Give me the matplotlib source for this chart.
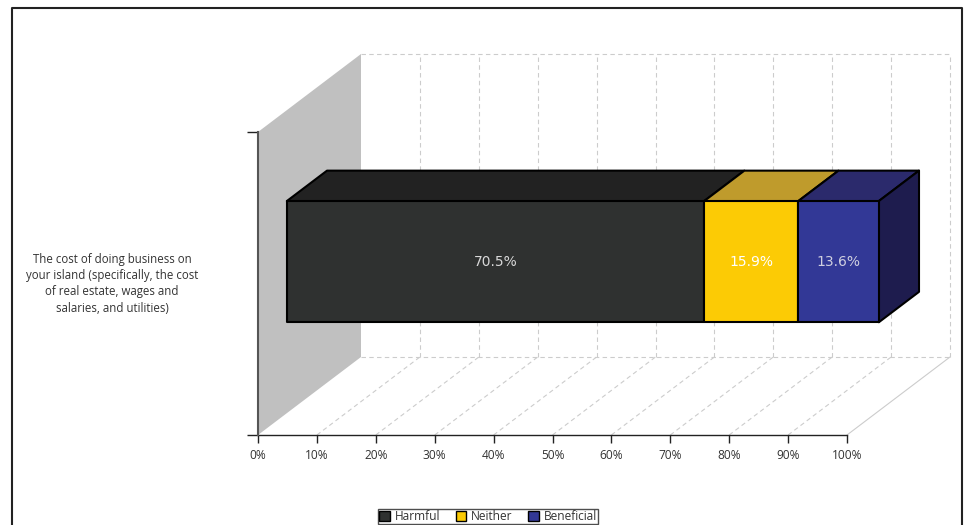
import matplotlib
matplotlib.use('Agg')
import matplotlib.pyplot as plt
from matplotlib.patches import Polygon, Rectangle

# data
category = 'The cost of doing business on\nyour island (specifically, the cost\nof real estate, wages and\nsalaries, and utilities)'
series = ['Harmful', 'Neither', 'Beneficial']
values = [70.5, 15.9, 13.6]
front_colors = ['#2f3130', '#fccb05', '#323896']
top_colors = ['#222222', '#bf9b2c', '#2b2a6c']
side_colors = ['#1b1b1b', '#8a7010', '#1e1c4e']
label_colors = ['#d8d8d8', '#ffffff', '#d0d0e0']
xticks = list(range(0, 101, 10))

W, H = 965, 525
fig = plt.figure(figsize=(W / 100, H / 100), dpi=100)

# front plane: x 0..100 -> px 258..847, y 0..1 -> px 435..132
ax = fig.add_axes([258 / W, (H - 435) / H, 589 / W, 303 / H])
ax.set_xlim(0, 100)
ax.set_ylim(0, 1)
for s in ax.spines.values():
    s.set_visible(False)

# depth shift in data units (full depth = 103px right, 78px up)
DX = 103 / 589 * 100
DY = 78 / 303


def proj(x, y, d):
    return (x + d * DX, y + d * DY)


grid_kw = dict(color='#cccccc', lw=0.8, ls=(0, (4, 3)), clip_on=False, zorder=1)

# left wall
ax.add_patch(Polygon([proj(0, 0, 0), proj(0, 1, 0), proj(0, 1, 1), proj(0, 0, 1)],
                     closed=True, fc='#c0c0c0', ec='none', clip_on=False, zorder=0))

# back wall grid
for t in xticks:
    p0 = proj(t, 0, 1)
    p1 = proj(t, 1, 1)
    if t > 0:
        ax.plot([p0[0], p1[0]], [p0[1], p1[1]], **grid_kw)
for yy in (0, 1):
    p0 = proj(0, yy, 1)
    p1 = proj(100, yy, 1)
    ax.plot([p0[0], p1[0]], [p0[1], p1[1]], **grid_kw)

# floor grid
for t in xticks:
    p0 = proj(t, 0, 0)
    p1 = proj(t, 0, 1)
    if t == 0:
        continue
    if t == 100:
        ax.plot([p0[0], p1[0]], [p0[1], p1[1]], color='#cccccc', lw=0.8, clip_on=False, zorder=1)
    else:
        ax.plot([p0[0], p1[0]], [p0[1], p1[1]], **grid_kw)

# stacked 3d bar
y0, y1 = 0.3, 0.7
d0, d1 = 0.28, 0.67
scale = 592 / 589
left = 0
for i, v in enumerate(values):
    right = left + v
    l, r = left * scale, right * scale
    top = [proj(l, y1, d0), proj(r, y1, d0), proj(r, y1, d1), proj(l, y1, d1)]
    ax.add_patch(Polygon(top, closed=True, fc=top_colors[i], ec='black', lw=1.5,
                         clip_on=False, zorder=3, joinstyle='round'))
    fx, fy = proj(l, y0, d0)
    ax.add_patch(Rectangle((fx, fy), r - l, y1 - y0, fc=front_colors[i], ec='black', lw=1.5,
                           clip_on=False, zorder=4, joinstyle='round'))
    cx, cy = proj((l + r) / 2, (y0 + y1) / 2, d0)
    ax.text(cx, cy, '%.1f%%' % v, ha='center', va='center', fontsize=10,
            color=label_colors[i], family='DejaVu Sans', zorder=6)
    left = right
le = left * scale
side = [proj(le, y0, d0), proj(le, y1, d0), proj(le, y1, d1), proj(le, y0, d1)]
ax.add_patch(Polygon(side, closed=True, fc=side_colors[2], ec='black', lw=1.5,
                     clip_on=False, zorder=3, joinstyle='round'))

# front axes
ax.plot([0, 100], [0, 0], color='#222222', lw=1.0, clip_on=False, zorder=5)
ax.plot([0, 0], [0, 1], color='#555555', lw=1.5, clip_on=False, zorder=5)
ax.set_xticks(xticks)
ax.set_xticklabels(['%d%%' % t for t in xticks], fontsize=8.6, color='#333333', family='Open Sans')
ax.tick_params(axis='x', direction='out', length=6, width=1, color='#222222', pad=4)
ax.set_yticks([0, 1])
ax.set_yticklabels(['', ''])
ax.tick_params(axis='y', direction='out', length=8, width=1, color='#222222')

# category label
fig.text(112 / W, 1 - 284 / H, category, ha='center', va='center', fontsize=8.3,
         color='#333333', family='Open Sans', linespacing=1.3)

# legend
handles = [Rectangle((0, 0), 1, 1, fc=front_colors[i], ec='black', lw=1) for i in range(3)]
leg = fig.legend(handles, series, loc='upper center', bbox_to_anchor=(488 / W, 1 - 503 / H),
                 ncol=3, frameon=True, handlelength=0.9, handleheight=0.9,
                 handletextpad=0.4, columnspacing=1.3, borderpad=0.1, fancybox=False,
                 prop={'family': 'Open Sans', 'size': 8.6})
leg.get_frame().set_edgecolor('#222222')
leg.get_frame().set_linewidth(1)
for t in leg.get_texts():
    t.set_color('#333333')

# outer frame
fig.add_artist(plt.Line2D([12 / W, 12 / W, 962 / W, 962 / W], [0, 1 - 7.5 / H, 1 - 7.5 / H, 0],
                          color='#222222', lw=1.5, transform=fig.transFigure))

fig.savefig('out.png', dpi=100)
